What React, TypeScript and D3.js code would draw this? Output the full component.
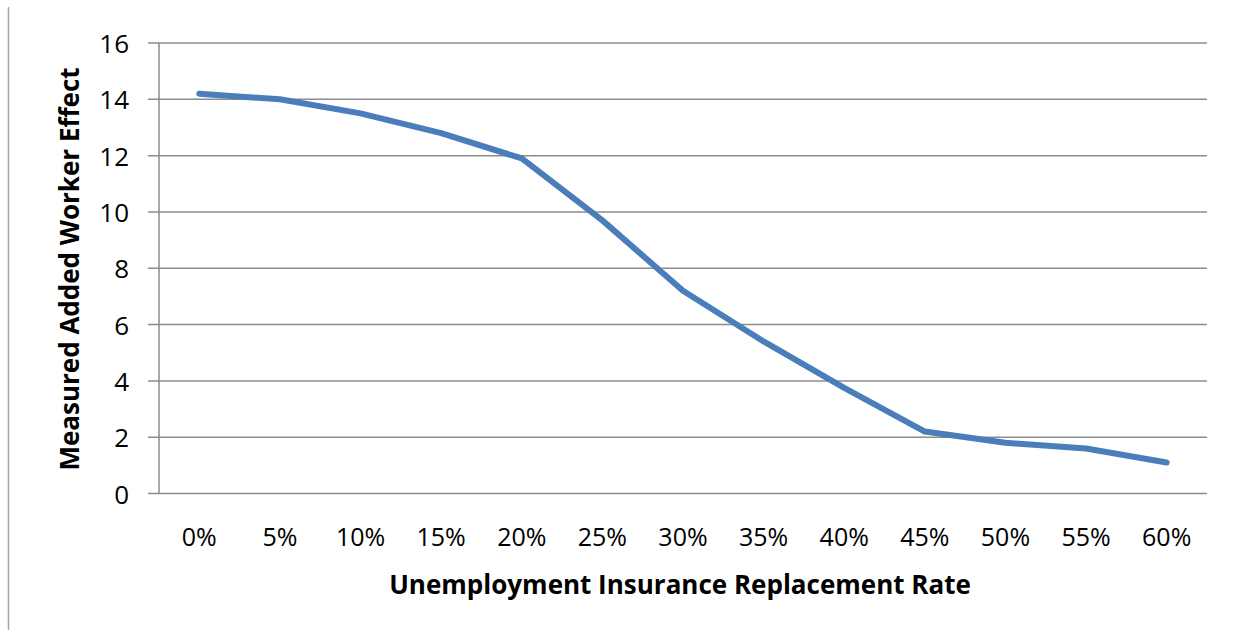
import React from 'react';
import * as d3 from 'd3';

const rates = ['0%', '5%', '10%', '15%', '20%', '25%', '30%', '35%', '40%', '45%', '50%', '55%', '60%'];
const effect = [14.2, 14.0, 13.5, 12.8, 11.9, 9.7, 7.2, 5.4, 3.75, 2.2, 1.8, 1.6, 1.1];
const yTicks = [0, 2, 4, 6, 8, 10, 12, 14, 16];

const W = 1238;
const H = 637;
const margin = { left: 159, right: 31, top: 43, bottom: 143.5 };
const font = 'Open Sans, sans-serif';

const App: React.FC = () => {
  const x = d3.scaleBand<string>()
    .domain(rates)
    .range([margin.left, W - margin.right]);
  const y = d3.scaleLinear()
    .domain([0, 16])
    .range([H - margin.bottom, margin.top]);

  const line = d3.line<number>()
    .x((_, i) => x(rates[i])! + x.bandwidth() / 2)
    .y(d => y(d));

  return (
    <svg width={W} height={H} style={{ position: 'absolute', left: 0, top: 0, background: '#fff' }}>
      <line x1={8.5} x2={8.5} y1={7} y2={630} stroke="#a6a6a6" strokeWidth={1.5} />
      {yTicks.map(t => (
        <g key={t}>
          <line x1={margin.left - 11} x2={W - margin.right} y1={y(t)} y2={y(t)} stroke="#8c8c8c" strokeWidth={1.5} />
          <text x={margin.left - 30} y={y(t)} textAnchor="end" dominantBaseline="central"
            fontFamily={font} fontSize={26} fill="#000">{t}</text>
        </g>
      ))}
      <line x1={margin.left} x2={margin.left} y1={margin.top} y2={y(0)} stroke="#8c8c8c" strokeWidth={1.5} />
      {rates.map(r => (
        <text key={r} x={x(r)! + x.bandwidth() / 2} y={y(0) + 42} textAnchor="middle" dominantBaseline="central"
          fontFamily={font} fontSize={25} fill="#000">{r}</text>
      ))}
      <path d={line(effect)!} fill="none" stroke="#4a7ebb" strokeWidth={6} strokeLinejoin="round" strokeLinecap="round" />
      <text x={(385 + 975) / 2} y={584} textAnchor="middle" dominantBaseline="central"
        fontFamily={font} fontSize={26} fontWeight="bold" fill="#000">Unemployment Insurance Replacement Rate</text>
      <text transform={`translate(69,${(62 + 476) / 2}) rotate(-90)`} textAnchor="middle" dominantBaseline="central"
        fontFamily={font} fontSize={26} fontWeight="bold" fill="#000">Measured Added Worker Effect</text>
    </svg>
  );
};

export default App;
